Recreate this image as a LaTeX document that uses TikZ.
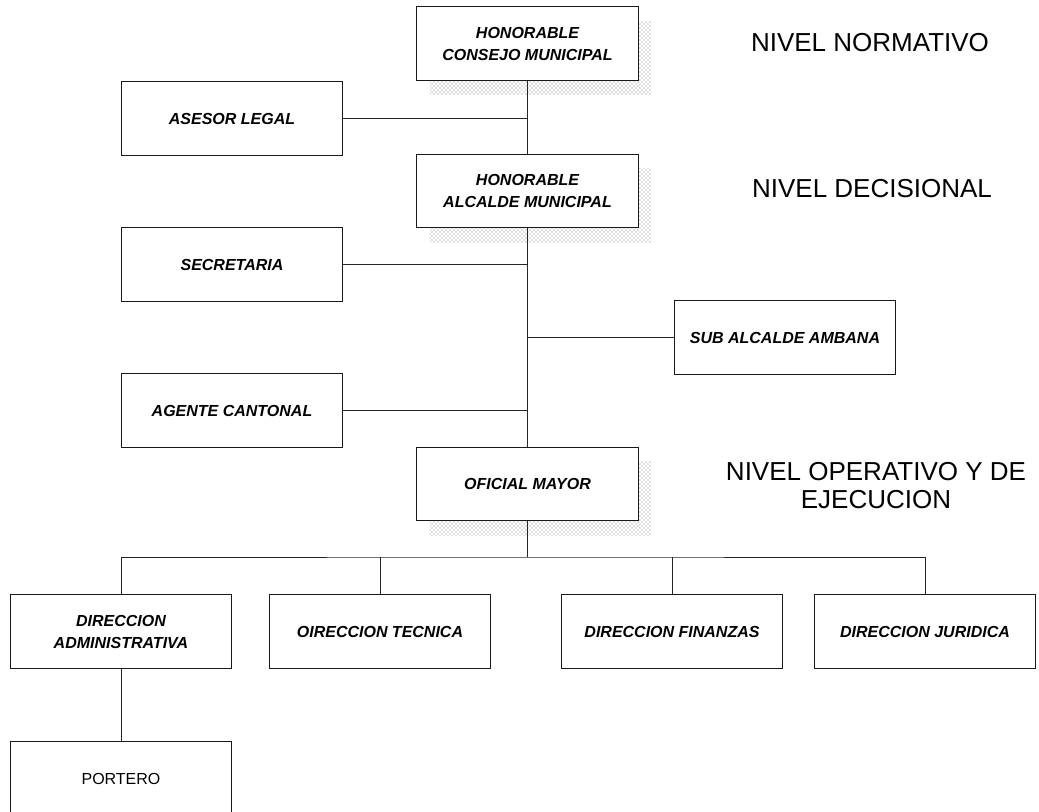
\documentclass[tikz,border=0pt]{standalone}
\usepackage{fontspec}
\setmainfont{Liberation Sans}
\usetikzlibrary{positioning,shadows,patterns}

\begin{document}
\begin{tikzpicture}[x=0.75pt, y=-0.75pt,
    orgbox/.style={rectangle, draw=black!90, line width=0.9pt, fill=white,
      minimum width=166pt, minimum height=55pt, inner sep=2pt, align=center,
      font=\fontsize{12}{16.5}\selectfont\bfseries\itshape},
    shadebox/.style={orgbox, drop shadow={shadow xshift=10pt, shadow yshift=-11pt,
      opacity=1, fill=none, pattern=crosshatch dots, pattern color=black!55}},
    levellbl/.style={align=center, font=\fontsize{19.5}{21}\selectfont},
    link/.style={draw=black!85, line width=0.7pt}
  ]
    \useasboundingbox (0,0) rectangle (1039,812);

    % Nivel normativo / decisional
    \node[shadebox] (consejo) at (527.5,43.5) {HONORABLE\\CONSEJO MUNICIPAL};
    \node[orgbox]   (asesor)  at (232,118.5)  {ASESOR LEGAL};
    \node[shadebox] (alcalde) at (527.5,191)  {HONORABLE\\ALCALDE MUNICIPAL};

    % Staff del alcalde
    \node[orgbox] (secretaria) at (232,264.5) {SECRETARIA};
    \node[orgbox] (subalcalde) at (785,337.5) {SUB ALCALDE AMBANA};
    \node[orgbox] (agente)     at (232,410.5) {AGENTE CANTONAL};

    % Nivel operativo
    \node[shadebox] (oficial)  at (527.5,484)  {OFICIAL MAYOR};
    \node[orgbox]   (admin)    at (121,631.5)  {DIRECCION\\ADMINISTRATIVA};
    \node[orgbox]   (tecnica)  at (380,631.5)  {OIRECCION TECNICA};
    \node[orgbox]   (finanzas) at (672,631.5)  {DIRECCION FINANZAS};
    \node[orgbox]   (juridica) at (925,631.5)  {DIRECCION JURIDICA};
    \node[orgbox, font=\fontsize{12}{15.5}\selectfont] (portero) at (121,778.5) {PORTERO};

    % Niveles
    \node[levellbl] (normativo)  at (870,43)  {NIVEL NORMATIVO};
    \node[levellbl] (decisional) at (872,189) {NIVEL DECISIONAL};
    \node[levellbl] (operativo)  at (876,486) {NIVEL OPERATIVO Y DE\\EJECUCION};

    % Lineas
    \draw[link] (consejo.south) -- (alcalde.north);
    \draw[link] (asesor.east) -- (asesor.east -| consejo.south);
    \draw[link] (alcalde.south) -- (oficial.north);
    \draw[link] (secretaria.east) -- (secretaria.east -| alcalde.south);
    \draw[link] (subalcalde.west) -- (subalcalde.west -| alcalde.south);
    \draw[link] (agente.east) -- (agente.east -| alcalde.south);

    \coordinate (bus) at (527.5,557);
    \draw[link] (oficial.south) -- (bus);
    \draw[link] (admin.north) |- (bus) -| (juridica.north);
    \draw[link] (tecnica.north) -- (tecnica.north |- bus);
    \draw[link] (finanzas.north) -- (finanzas.north |- bus);
    \draw[link] (admin.south) -- (portero.north);
  \end{tikzpicture}
\end{document}
